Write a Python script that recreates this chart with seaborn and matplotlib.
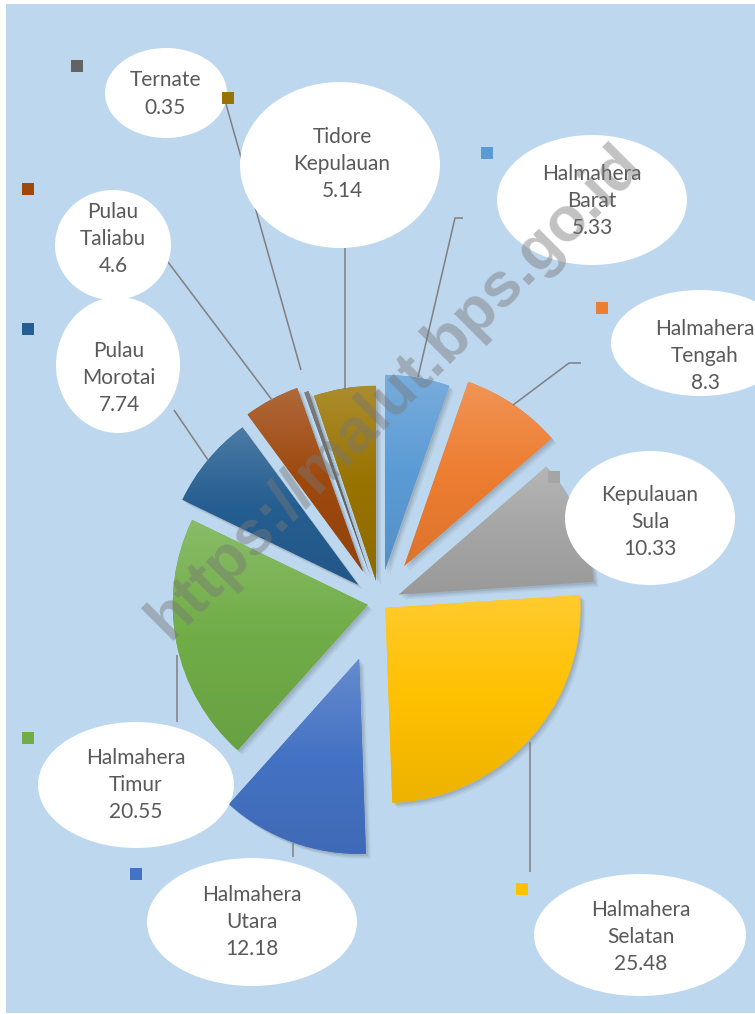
import numpy as np
import matplotlib
matplotlib.use("Agg")
import matplotlib.pyplot as plt
import seaborn as sns
from matplotlib.patches import Ellipse, Rectangle
from matplotlib.colors import LinearSegmentedColormap, to_rgb

# ---------------- data ----------------
regions = ["Halmahera Barat", "Halmahera Tengah", "Kepulauan Sula", "Halmahera Selatan",
           "Halmahera Utara", "Halmahera Timur", "Pulau Morotai", "Pulau Taliabu",
           "Ternate", "Tidore Kepulauan"]
shares = [5.33, 8.3, 10.33, 25.48, 12.18, 20.55, 7.74, 4.6, 0.35, 5.14]
label_names = ["Halmahera\nBarat", "Halmahera\nTengah", "Kepulauan\nSula", "Halmahera\nSelatan",
               "Halmahera\nUtara", "Halmahera\nTimur", "Pulau\nMorotai", "Pulau\nTaliabu",
               "Ternate", "Tidore\nKepulauan"]
value_labels = ["5.33", "8.3", "10.33", "25.48", "12.18", "20.55", "7.74", "4.6", "0.35", "5.14"]
watermark = "https://malut.bps.go.id"

# ---------------- style ----------------
sns.set_theme(style="white")
plt.rcParams['font.family'] = ['Lato', 'DejaVu Sans']

colors = sns.color_palette(["#5B9BD5", "#ED7D31", "#A5A5A5", "#FFC000", "#4472C4",
                            "#70AD47", "#255E91", "#9E480E", "#636363", "#997300"])
explode_px = [33, 44, 21, 8, 60, 12, 28, 35, 28, 22]
W, H = 755, 1014
def Y(py):
    return H - py

fig = plt.figure(figsize=(W / 100, H / 100), dpi=100, facecolor="white")
ax = fig.add_axes([0, 0, 1, 1])
ax.set_xlim(0, W)
ax.set_ylim(0, H)
ax.axis("off")
ax.add_patch(Rectangle((6, 1), W - 6, H - 5, facecolor="#BDD7EE", edgecolor="none", zorder=0))

R = 195
center = (379.5, Y(602.5))
wedges, _ = ax.pie(shares, colors=colors, startangle=90, counterclock=False,
                   radius=R, center=center, explode=explode_px, frame=True,
                   wedgeprops=dict(linewidth=0, zorder=3))

# soft shadow + gradient fill per wedge
grad = np.linspace(0, 1, 256).reshape(-1, 1)
for w, c in zip(wedges, colors):
    v = w.get_path().vertices
    x0, x1 = v[:, 0].min(), v[:, 0].max()
    y0, y1 = v[:, 1].min(), v[:, 1].max()
    for k, a in [(5, 0.06), (3.5, 0.08), (2, 0.1)]:
        sh = matplotlib.patches.PathPatch(w.get_path(), facecolor="#303030", edgecolor="none",
                                          alpha=a, zorder=2,
                                          transform=matplotlib.transforms.Affine2D().translate(k, -k) + ax.transData)
        ax.add_patch(sh)
    rgb = np.array(to_rgb(c))
    light = rgb + (1 - rgb) * 0.18
    dark = rgb * 0.93
    cmap = LinearSegmentedColormap.from_list("g", [light, rgb, dark])
    im = ax.imshow(grad, extent=[x0, x1, y0, y1], origin="upper", aspect="auto",
                   cmap=cmap, zorder=3.5)
    im.set_clip_path(w)

ax.set_xlim(0, W)
ax.set_ylim(0, H)
ax.set_aspect("equal")

# ---------------- labels ----------------
# ellipse centers (px), width, height, text center
label_boxes = [
    (592, 200, 190, 130, 592, 201),   # Barat
    (700, 343, 178, 106, 705, 356),   # Tengah
    (650, 518, 170, 134, 650, 522),   # Sula
    (640, 935, 212, 122, 641, 937),   # Selatan
    (252, 922, 210, 128, 252, 922),   # Utara
    (136, 785, 196, 126, 136, 785),   # Timur
    (118, 365, 124, 136, 119, 378),   # Morotai
    (113, 245, 116, 110, 113, 239),   # Taliabu
    (166, 93, 122, 90, 165, 94),      # Ternate
    (340, 165, 200, 166, 342, 164),   # Tidore
]
key_pos = [(487, 153), (602, 308), (554, 477), (522, 889), (136, 874), (28, 738),
           (28, 329), (28, 189), (77, 66), (228, 98)]
leaders = [
    [(463, 218), (455, 218), (418, 377)],
    [(581, 363), (569, 363), (513, 405)],
    None,
    [(530, 742), (530, 872)],
    [(293, 843), (293, 857)],
    [(177, 655), (177, 722)],
    [(174, 410), (208, 460)],
    [(168, 262), (272, 400)],
    [(226, 104), (301, 370)],
    [(345, 248), (345, 390)],
]

for i in range(len(regions)):
    ex, ey, ew, eh, tx, ty = label_boxes[i]
    if leaders[i] is not None:
        xs = [p[0] for p in leaders[i]]
        ys = [Y(p[1]) for p in leaders[i]]
        ax.plot(xs, ys, color="#7F7F7F", lw=1.1, zorder=4, solid_capstyle="butt")
    ax.add_patch(Ellipse((ex, Y(ey)), ew, eh, facecolor="white", edgecolor="none", zorder=5))
    ax.text(tx, Y(ty), label_names[i] + "\n" + value_labels[i], ha="center", va="center",
            fontsize=15, color="#595959", linespacing=1.45, zorder=6)
    kx, ky = key_pos[i]
    ax.add_patch(Rectangle((kx - 6, Y(ky) - 6), 12, 12, facecolor=colors[i],
                           edgecolor="none", zorder=6))

ax.text(395, Y(392), watermark, rotation=45, fontsize=45, fontweight="bold",
        color="#777777", alpha=0.45, ha="center", va="center",
        family=["Liberation Sans", "DejaVu Sans"], zorder=10)

fig.savefig("out.png", dpi=100, facecolor="white")
